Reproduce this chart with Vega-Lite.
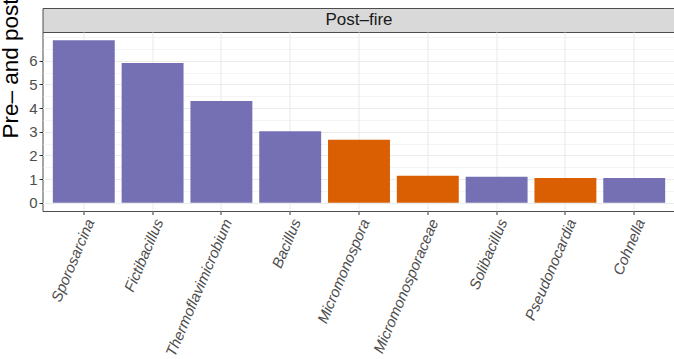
{
  "$schema": "https://vega.github.io/schema/vega-lite/v6.json",
  "autosize": {"type": "none"},
  "padding": {"left": 42.5, "top": 8, "right": 631.5, "bottom": 351},
  "background": "white",
  "bounds": "flush",
  "spacing": 0,
  "config": {
    "font": "Liberation Sans"
  },
  "datasets": {
    "genera": [
      {"genus": "Sporosarcina", "phylum": "Firmicutes", "abundance": 6.87},
      {"genus": "Fictibacillus", "phylum": "Firmicutes", "abundance": 5.91},
      {"genus": "Thermoflavimicrobium", "phylum": "Firmicutes", "abundance": 4.30},
      {"genus": "Bacillus", "phylum": "Firmicutes", "abundance": 3.02},
      {"genus": "Micromonospora", "phylum": "Actinobacteria", "abundance": 2.66},
      {"genus": "Micromonosporaceae", "phylum": "Actinobacteria", "abundance": 1.14},
      {"genus": "Solibacillus", "phylum": "Firmicutes", "abundance": 1.10},
      {"genus": "Pseudonocardia", "phylum": "Actinobacteria", "abundance": 1.05},
      {"genus": "Cohnella", "phylum": "Firmicutes", "abundance": 1.05}
    ]
  },
  "vconcat": [
    {
      "width": 633,
      "height": 24,
      "data": {"values": [{"panel": "Post–fire"}]},
      "view": {"fill": "#D9D9D9", "stroke": "#4D4D4D", "strokeWidth": 1},
      "mark": {"type": "text", "fontSize": 17, "color": "#1A1A1A"},
      "encoding": {"text": {"field": "panel"}}
    },
    {
      "width": 633,
      "height": 179,
      "data": {"name": "genera"},
      "view": {"stroke": "#4D4D4D", "strokeWidth": 1},
      "mark": {"type": "bar"},
      "encoding": {
        "x": {
          "field": "genus",
          "type": "nominal",
          "sort": null,
          "scale": {"paddingInner": 0.1, "paddingOuter": 0.15},
          "axis": {
            "title": null,
            "domain": false,
            "bandPosition": 0.5,
            "grid": true,
            "gridColor": "#EBEBEB",
            "gridWidth": 1.1,
            "ticks": true,
            "tickColor": "#333333",
            "tickSize": 3.5,
            "labelAngle": -67,
            "labelAlign": "right",
            "labelBaseline": "top",
            "labelPadding": 2,
            "labelFontSize": 15,
            "labelFontStyle": "italic",
            "labelColor": "#4D4D4D",
            "labelLimit": 400
          }
        },
        "y": {
          "field": "abundance",
          "type": "quantitative",
          "scale": {"domain": [-0.3435, 7.2135], "nice": false, "zero": false},
          "axis": {
            "title": "Pre– and post–fire relative abundance (%)",
            "titleFontSize": 22.5,
            "titleFontWeight": "normal",
            "titleColor": "#000000",
            "titleAngle": -90,
            "titleAlign": "left",
            "titleBaseline": "alphabetic",
            "titleX": -25.2,
            "titleY": 106,
            "values": [0, 0.5, 1, 1.5, 2, 2.5, 3, 3.5, 4, 4.5, 5, 5.5, 6, 6.5, 7],
            "labelExpr": "datum.value % 1 === 0 && datum.value <= 6 ? format(datum.value, 'd') : ''",
            "labelOverlap": false,
            "labelFlush": false,
            "labelFontSize": 15,
            "labelColor": "#4D4D4D",
            "labelPadding": 2,
            "domain": false,
            "tickColor": "#333333",
            "tickSize": 3.5,
            "tickOpacity": {"condition": {"test": "datum.value % 1 !== 0 || datum.value > 6", "value": 0}, "value": 1},
            "grid": true,
            "gridColor": "#EBEBEB",
            "gridWidth": {"condition": {"test": "datum.value % 1 !== 0 || datum.value > 6", "value": 0.55}, "value": 1.1}
          }
        },
        "color": {
          "field": "phylum",
          "type": "nominal",
          "scale": {"domain": ["Firmicutes", "Actinobacteria"], "range": ["#7570B3", "#D95F02"]},
          "legend": null
        }
      }
    }
  ]
}
